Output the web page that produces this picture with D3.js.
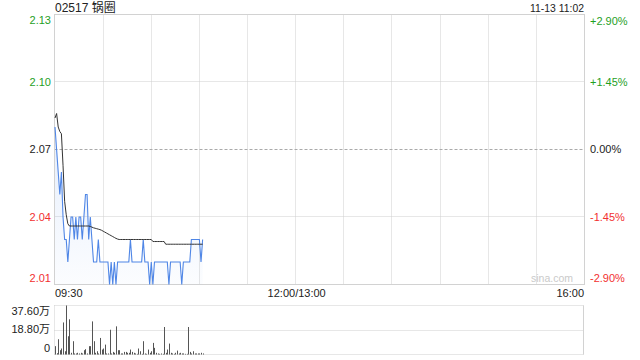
<!DOCTYPE html>
<html><head><meta charset="utf-8">
<script src="https://cdn.jsdelivr.net/npm/d3@7"></script>
<style>body{margin:0;background:#fff;} svg{display:block;font-family:"Liberation Sans",Arial,"Noto Sans CJK SC",sans-serif;}</style>
</head><body><svg id="c" width="640" height="360"></svg>
<script>
const title = "02517 锅圈";
const stamp = "11-13 11:02";
const prevClose = 2.07;
const priceTicks = [2.13, 2.10, 2.07, 2.04, 2.01];
const pctTicks = ["+2.90%", "+1.45%", "0.00%", "-1.45%", "-2.90%"];
const volTicks = [37.6, 18.8, 0];
const volTickLabels = ["37.60万", "18.80万", "0"];
const timeLabels = ["09:30", "12:00/13:00", "16:00"];
const timeLabelMinutes = [0, 150, 330];
const totalMinutes = 330;

// one value per minute from 09:30 to 11:02
const prices = [
  2.08, 2.07, 2.06, 2.05, 2.06, 2.04, 2.03, 2.03, 2.02, 2.03,
  2.04, 2.04, 2.03, 2.04, 2.03, 2.04, 2.04, 2.03, 2.04, 2.05,
  2.05, 2.03, 2.04, 2.03, 2.02, 2.02, 2.02, 2.03, 2.02, 2.02,
  2.02, 2.02, 2.02, 2.02, 2.01, 2.02, 2.01, 2.02, 2.01, 2.02,
  2.02, 2.02, 2.02, 2.02, 2.02, 2.02, 2.02, 2.03, 2.02, 2.02,
  2.02, 2.02, 2.02, 2.02, 2.02, 2.03, 2.02, 2.02, 2.02, 2.01,
  2.02, 2.01, 2.02, 2.02, 2.02, 2.02, 2.02, 2.02, 2.02, 2.02,
  2.02, 2.01, 2.02, 2.02, 2.02, 2.02, 2.02, 2.02, 2.02, 2.01,
  2.02, 2.02, 2.02, 2.02, 2.02, 2.03, 2.03, 2.03, 2.03, 2.03,
  2.03, 2.02, 2.03
];
const avgPrices = [
  2.084, 2.086, 2.080, 2.078, 2.077, 2.063, 2.047, 2.041, 2.037, 2.036,
  2.036, 2.036, 2.036, 2.036, 2.036, 2.036, 2.036, 2.036, 2.036, 2.036,
  2.036, 2.036, 2.0358, 2.0355, 2.0352, 2.0350, 2.0348, 2.0346, 2.0344, 2.0341,
  2.0337, 2.0333, 2.0329, 2.0325, 2.0321, 2.0317, 2.0313, 2.0309, 2.0305, 2.0302,
  2.0300, 2.0300, 2.0300, 2.0300, 2.0300, 2.0300, 2.0300, 2.0300, 2.0300, 2.0300,
  2.0300, 2.0300, 2.0300, 2.0300, 2.0300, 2.0300, 2.0300, 2.0300, 2.0300, 2.0300,
  2.0300, 2.0291, 2.0291, 2.0291, 2.0291, 2.0291, 2.0291, 2.0291, 2.0291, 2.0279,
  2.0279, 2.0279, 2.0279, 2.0279, 2.0279, 2.0279, 2.0279, 2.0279, 2.0279, 2.0279,
  2.0279, 2.0279, 2.0279, 2.0279, 2.0279, 2.0279, 2.0279, 2.0279, 2.0279, 2.0279,
  2.0279, 2.0279, 2.0279
];
// volume in 万 shares
const volumes = [
  6.4, 1.0, 11.7, 3.3, 4.6, 24.6, 2.5, 37.6, 14.0, 27.0,
  1.3, 10.2, 0.8, 0.8, 1.3, 0.8, 1.3, 0.8, 3.3, 4.1,
  0.8, 6.4, 6.4, 25.4, 10.2, 1.3, 2.5, 0.8, 12.7, 3.8,
  4.6, 7.6, 0.8, 0.8, 19.0, 0.8, 2.0, 1.3, 21.6, 3.3,
  3.3, 0.8, 0.8, 2.0, 2.0, 1.3, 1.3, 3.8, 2.0, 1.3,
  0.8, 0.5, 4.6, 2.5, 0.5, 10.2, 0.8, 0.5, 3.8, 1.3,
  2.5, 8.9, 5.1, 1.3, 0.8, 0.5, 0.8, 0.5, 21.1, 1.3,
  3.8, 8.4, 1.3, 0.8, 0.5, 1.3, 3.0, 0.8, 1.3, 0.8,
  0.8, 0.5, 0.5, 21.1, 2.0, 0.8, 2.5, 0.8, 0.8, 0.8,
  0.8, 1.3, 0.8
];

const svg = d3.select("#c");
const L = 54.5, R = 584.5, T = 14.5, B = 284.5;
const VT = 305.5, VB = 354.5;
const x = d3.scaleLinear().domain([0, totalMinutes]).range([55, R]);
const y = d3.scaleLinear().domain([2.01, 2.13]).range([B, T]);
const vy = d3.scaleLinear().domain([0, 37.6]).range([VB, VT]);
const snap = v => Math.round(v - 0.5) + 0.5;
const green = "#1fa01f", red = "#f23030", grid = "#cfcfcf";
const colorFor = p => Math.abs(p - prevClose) < 1e-9 ? "#222" : (p > prevClose ? green : red);

// vertical gridlines
const vg = d3.range(1, 11).map(k => k * 30);
svg.append("g").selectAll("line").data(vg).join("line")
  .attr("x1", d => snap(x(d))).attr("x2", d => snap(x(d)))
  .attr("y1", T).attr("y2", B)
  .attr("stroke", grid).attr("stroke-dasharray", "1,1");

// horizontal gridlines
svg.append("g").selectAll("line").data(priceTicks.filter(p => p !== 2.13 && p !== 2.01)).join("line")
  .attr("x1", L).attr("x2", R)
  .attr("y1", d => snap(y(d))).attr("y2", d => snap(y(d)))
  .attr("stroke", d => d === prevClose ? "#aaa" : grid)
  .attr("stroke-dasharray", d => d === prevClose ? "3,2" : "1,1");

// frame
svg.append("rect").attr("x", L).attr("y", T).attr("width", R - L).attr("height", B - T)
  .attr("fill", "none").attr("stroke", "#d2d2d2");

// area gradient
const defs = svg.append("defs");
const gr = defs.append("linearGradient").attr("id", "ag").attr("x1", 0).attr("y1", 0).attr("x2", 0).attr("y2", 1);
gr.append("stop").attr("offset", "0%").attr("stop-color", "#4a86e8").attr("stop-opacity", 0.14);
gr.append("stop").attr("offset", "100%").attr("stop-color", "#4a86e8").attr("stop-opacity", 0.02);

const area = d3.area().x((d, i) => x(i)).y0(B).y1(d => y(d));
svg.append("path").datum(prices).attr("d", area).attr("fill", "url(#ag)");

const line = d3.line().x((d, i) => x(i)).y(d => y(d));
svg.append("path").datum(prices).attr("d", line)
  .attr("fill", "none").attr("stroke", "#4f86e6").attr("stroke-width", 1.1);
svg.append("path").datum(avgPrices).attr("d", line)
  .attr("fill", "none").attr("stroke", "#333").attr("stroke-width", 1);

// left price labels
svg.append("g").selectAll("text").data(priceTicks).join("text")
  .attr("x", 51).attr("y", (d, i) => y(d) + (i === 0 ? 6 : i === priceTicks.length - 1 ? -6.5 : 0))
  .attr("dy", "0.35em").attr("text-anchor", "end").attr("font-size", 11)
  .attr("fill", d => colorFor(d)).text(d => d.toFixed(2));

// right pct labels
svg.append("g").selectAll("text").data(pctTicks).join("text")
  .attr("x", 590).attr("y", (d, i) => y(priceTicks[i]) + (i === 0 ? 6.5 : i === pctTicks.length - 1 ? -6.5 : 0))
  .attr("dy", "0.35em").attr("text-anchor", "start").attr("font-size", 11)
  .attr("fill", (d, i) => colorFor(priceTicks[i])).text(d => d);

// title and timestamp
svg.append("text").attr("x", 55).attr("y", 12).attr("font-size", 12).attr("fill", "#222").text(title);
svg.append("text").attr("x", 584).attr("y", 11.5).attr("font-size", 10.4).attr("text-anchor", "end").attr("fill", "#222").text(stamp);

// watermark
svg.append("text").attr("x", 573).attr("y", 282).attr("font-size", 10.5).attr("text-anchor", "end")
  .attr("fill", "#cacaca").text("sina.com");

// time labels
svg.append("g").selectAll("text").data(timeLabels).join("text")
  .attr("x", (d, i) => i === 0 ? 55 : i === timeLabels.length - 1 ? 584 : x(timeLabelMinutes[i]) + 1)
  .attr("y", 297).attr("font-size", 11).attr("fill", "#222")
  .attr("text-anchor", (d, i) => i === 0 ? "start" : i === timeLabels.length - 1 ? "end" : "middle")
  .text(d => d);

// volume panel
svg.append("g").selectAll("line").data(volTicks).join("line")
  .attr("x1", L).attr("x2", R)
  .attr("y1", d => snap(vy(d))).attr("y2", d => snap(vy(d)))
  .attr("stroke", grid).attr("stroke-dasharray", "1,1");
svg.append("line").attr("x1", L).attr("x2", L).attr("y1", VT).attr("y2", VB)
  .attr("stroke", grid).attr("stroke-dasharray", "1,1");
svg.append("line").attr("x1", R - 1).attr("x2", R - 1).attr("y1", VT).attr("y2", VB)
  .attr("stroke", "#d2d2d2");

svg.append("g").selectAll("rect").data(volumes).join("rect")
  .attr("x", (d, i) => Math.round(x(i)))
  .attr("width", 1)
  .attr("y", d => vy(d))
  .attr("height", d => VB - vy(d))
  .attr("fill", "#555");

svg.append("g").selectAll("text").data(volTicks).join("text")
  .attr("x", 50).attr("y", (d, i) => vy(d) + (i === 0 ? 5.5 : i === volTicks.length - 1 ? -6 : -1))
  .attr("dy", "0.35em").attr("text-anchor", "end").attr("font-size", 11).attr("fill", "#222")
  .text((d, i) => volTickLabels[i]);
</script>
</body></html>
